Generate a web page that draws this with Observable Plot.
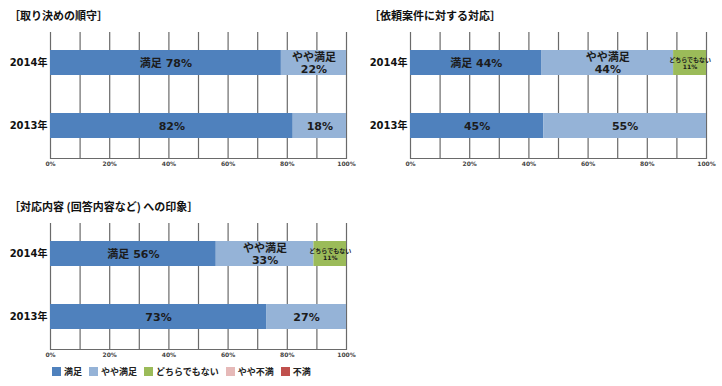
<!DOCTYPE html>
<html>
<head>
<meta charset="utf-8">
<script src="https://cdn.jsdelivr.net/npm/d3@7"></script>
<script src="https://cdn.jsdelivr.net/npm/@observablehq/plot@0.6"></script>
<style>
  html, body { margin: 0; padding: 0; background: #fff; }
  body { width: 722px; height: 386px; position: relative; overflow: hidden;
         font-family: 'DejaVu Sans', 'Noto Sans CJK JP', sans-serif; }
  .panel { position: absolute; }
  .panel svg { position: absolute; left: 0; top: 0; }
  .title { position: absolute; left: 9px; top: 7px; font-size: 11px; font-weight: bold; color: #111;
           font-family: 'Noto Sans CJK JP', sans-serif; white-space: nowrap; z-index: 2; }
  .legend { position: absolute; left: 52px; top: 365px; display: flex; align-items: center;
            font-size: 9px; font-weight: bold; color: #222; font-family: 'Noto Sans CJK JP', sans-serif; }
  .legend .item { display: flex; align-items: center; margin-right: 7px; }
  .legend .sw { width: 9px; height: 9px; margin-right: 3px; }
</style>
</head>
<body>
<script>
const years = ["2014年", "2013年"];
const categories = ["満足", "やや満足", "どちらでもない", "やや不満", "不満"];
const colors = ["#4F81BD", "#95B3D7", "#9BBB59", "#E6B9B8", "#C0504D"];
const xTicks = [0, 20, 40, 60, 80, 100];
const gridTicks = [0, 10, 20, 30, 40, 50, 60, 70, 80, 90, 100];

const titles = ["［取り決めの順守］", "［依頼案件に対する対応］", "［対応内容 (回答内容など) への印象］"];
// values per panel: [2014 row, 2013 row], in category order
const panel1 = [[78, 22, 0, 0, 0], [82, 18, 0, 0, 0]];
const panel2 = [[44, 44, 11, 0, 0], [45, 55, 0, 0, 0]];
const panel3 = [[56, 33, 11, 0, 0], [73, 27, 0, 0, 0]];

const panels = [
  {title: titles[0], vals: panel1, left: 0, top: 0, width: 360, marginRight: 14},
  {title: titles[1], vals: panel2, left: 360, top: 0, width: 362, marginRight: 16},
  {title: titles[2], vals: panel3, left: 0, top: 191, width: 360, marginRight: 14}
];

function label(d) {
  if (d.year === years[0]) {
    return d.cat === categories[0] ? `${d.cat} ${d.value}%` : `${d.cat}\n${d.value}%`;
  }
  return `${d.value}%`;
}

for (const p of panels) {
  const rows = years.flatMap((y, i) => categories.map((c, j) => ({year: y, cat: c, value: p.vals[i][j]})))
    .filter(d => d.value > 0);
  const div = document.createElement("div");
  div.className = "panel";
  div.style.left = p.left + "px";
  div.style.top = p.top + "px";
  div.style.width = p.width + "px";
  div.style.height = "175px";
  const t = document.createElement("div");
  t.className = "title";
  t.textContent = p.title;
  div.appendChild(t);
  const chart = Plot.plot({
    width: p.width,
    height: 172,
    marginTop: 32,
    marginBottom: 14,
    marginLeft: 50,
    marginRight: p.marginRight,
    style: {fontFamily: "'DejaVu Sans','Noto Sans CJK JP',sans-serif", background: "transparent"},
    x: {domain: [0, 1], axis: null, label: null},
    y: {domain: years, range: [49, 138], paddingInner: 0.609, paddingOuter: 0, axis: null, label: null},
    color: {domain: categories, range: colors},
    marks: [
      Plot.ruleX(gridTicks, {x: d => d / 100, stroke: "#6a6a6a", strokeWidth: 1.2}),
      Plot.frame({anchor: "bottom", stroke: "#6a6a6a", strokeWidth: 1.2}),
      Plot.axisX(xTicks.map(d => d / 100), {anchor: "bottom", tickSize: 0, tickPadding: 3, label: null,
        tickFormat: d => Math.round(d * 100) + "%", fontSize: 6, fontWeight: "bold", fill: "#444"}),
      Plot.axisY({tickSize: 0, tickPadding: 3, label: null, fontSize: 10, fontWeight: "bold", fill: "#111"}),
      Plot.barX(rows, Plot.stackX({x: "value", y: "year", fill: "cat", z: "cat", offset: "normalize", order: categories})),
      Plot.text(rows, Plot.stackX({x: "value", y: "year", z: "cat", text: label, offset: "normalize", order: categories,
        fontSize: d => d.cat === categories[2] ? 6 : 11, lineHeight: 1.15,
        fontWeight: "bold", fill: "#1c1c1c"}))
    ]
  });
  div.appendChild(chart);
  document.body.appendChild(div);
}

const legend = document.createElement("div");
legend.className = "legend";
categories.forEach((c, i) => {
  const item = document.createElement("div");
  item.className = "item";
  const sw = document.createElement("div");
  sw.className = "sw";
  sw.style.background = colors[i];
  item.appendChild(sw);
  const tx = document.createElement("span");
  tx.textContent = c;
  item.appendChild(tx);
  legend.appendChild(item);
});
document.body.appendChild(legend);
</script>
</body>
</html>
